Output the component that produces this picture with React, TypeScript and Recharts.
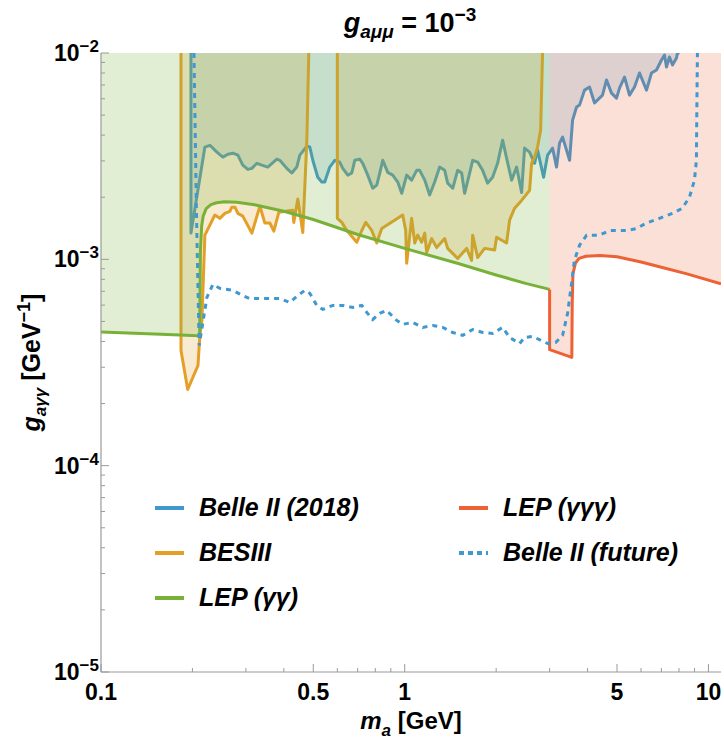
import React from 'react';
import { ComposedChart, Area, Line, XAxis, YAxis, Legend } from 'recharts';

type Pt = [number, number];

const belle2018: Pt[] = [
  [0.1978, 1e-2], [0.1978, 1.34e-3], [0.2198, 3.5e-3], [0.2284, 3.57e-3], [0.2408, 3.31e-3],
  [0.2519, 3.13e-3], [0.2617, 3.23e-3], [0.2718, 3.27e-3], [0.2823, 3.2e-3], [0.293, 2.86e-3],
  [0.3044, 2.73e-3], [0.3139, 2.76e-3], [0.326, 2.92e-3], [0.3386, 2.86e-3], [0.3541, 2.8e-3],
  [0.3793, 3.06e-3], [0.388, 3.02e-3], [0.409, 2.76e-3], [0.4248, 2.62e-3], [0.4412, 2.8e-3],
  [0.4514, 3.2e-3], [0.4762, 3.53e-3], [0.487, 3.5e-3], [0.4982, 3.02e-3], [0.5173, 2.5e-3],
  [0.5333, 2.37e-3], [0.5454, 2.37e-3], [0.5665, 2.8e-3], [0.5885, 3.02e-3], [0.611, 2.96e-3],
  [0.6252, 2.76e-3], [0.6494, 2.56e-3], [0.6694, 2.62e-3], [0.6849, 3.02e-3], [0.7112, 3.06e-3],
  [0.7275, 2.92e-3], [0.7556, 2.56e-3], [0.7846, 2.21e-3], [0.8089, 2.29e-3], [0.8276, 2.62e-3],
  [0.8466, 3.02e-3], [0.8792, 2.64e-3], [0.9131, 2.56e-3], [0.9484, 2.37e-3], [0.9775, 2.09e-3],
  [1.015, 2.56e-3], [1.054, 2.42e-3], [1.095, 2.7e-3], [1.12, 2.7e-3], [1.164, 2.42e-3],
  [1.208, 2.05e-3], [1.255, 2.37e-3], [1.303, 2.8e-3], [1.354, 2.7e-3], [1.385, 2.34e-3],
  [1.439, 2.21e-3], [1.494, 2.7e-3], [1.54, 2.62e-3], [1.575, 2.09e-3], [1.636, 2.62e-3],
  [1.674, 3.02e-3], [1.738, 2.96e-3], [1.805, 2.7e-3], [1.875, 2.34e-3], [1.947, 2.5e-3],
  [2.022, 2.92e-3], [2.101, 3.78e-3], [2.165, 3.09e-3], [2.249, 2.42e-3], [2.336, 2.8e-3],
  [2.426, 2.11e-3], [2.481, 3.46e-3], [2.577, 3.31e-3], [2.677, 2.92e-3], [2.738, 3.38e-3],
  [2.866, 2.5e-3], [2.954, 3.2e-3], [3.068, 3.46e-3], [3.162, 2.8e-3], [3.235, 3.66e-3],
  [3.31, 3.91e-3], [3.49, 3.02e-3], [3.57, 4.73e-3], [3.68, 5.47e-3], [3.764, 5.59e-3],
  [3.909, 6.61e-3], [4.06, 6.84e-3], [4.217, 5.72e-3], [4.48, 6.25e-3], [4.618, 7.4e-3],
  [4.796, 6.39e-3], [4.982, 6.04e-3], [5.096, 6.76e-3], [5.293, 7.65e-3], [5.497, 6.25e-3],
  [5.71, 6.84e-3], [5.93, 8e-3], [6.254, 6.61e-3], [6.494, 8e-3], [6.745, 8.27e-3],
  [7.006, 9.25e-3], [7.167, 9.78e-3], [7.276, 8.55e-3], [7.443, 9.56e-3], [7.615, 8.74e-3],
  [7.849, 9.46e-3], [7.907, 1e-2], [8.03, 1e-2],
];

const besiiiLow: Pt[] = [
  [0.1834, 1e-2], [0.1834, 3.62e-4], [0.193, 2.34e-4], [0.2086, 3.06e-4], [0.2116, 4.28e-4],
  [0.2149, 5.06e-4], [0.2198, 1.31e-3], [0.2371, 1.64e-3], [0.2462, 1.58e-3], [0.2558, 1.67e-3],
  [0.2657, 1.71e-3], [0.2697, 1.79e-3], [0.276, 1.79e-3], [0.2823, 1.67e-3], [0.293, 1.62e-3],
  [0.3139, 1.34e-3], [0.3335, 1.81e-3], [0.3463, 1.5e-3], [0.3597, 1.5e-3], [0.3708, 1.37e-3],
  [0.385, 1.69e-3], [0.428, 1.73e-3], [0.4312, 1.51e-3], [0.4447, 1.96e-3], [0.4618, 1.35e-3],
  [0.4762, 3.78e-3], [0.4832, 1e-2],
];

const besiiiHigh: Pt[] = [
  [0.6, 1e-2], [0.6, 1.58e-3], [0.6206, 1.51e-3], [0.6446, 1.38e-3], [0.6955, 1.21e-3],
  [0.7222, 1.38e-3], [0.7443, 1.51e-3], [0.7786, 1.38e-3], [0.8089, 1.2e-3], [0.8401, 1.41e-3],
  [0.9849, 1.64e-3], [1.0076, 1.38e-3], [1.015, 9.57e-4], [1.054, 1.58e-3], [1.079, 1.2e-3],
  [1.104, 1.31e-3], [1.137, 1.21e-3], [1.164, 1.34e-3], [1.181, 1.08e-3], [1.227, 1.26e-3],
  [1.274, 1.14e-3], [1.354, 1.26e-3], [1.385, 1.13e-3], [1.494, 1.01e-3], [1.599, 1.13e-3],
  [1.661, 9.89e-4], [1.674, 1.31e-3], [1.738, 1.02e-3], [1.833, 1.13e-3], [1.977, 1.11e-3],
  [2.007, 1.28e-3], [2.165, 1.2e-3], [2.215, 1.55e-3], [2.301, 1.77e-3], [2.426, 1.93e-3],
  [2.577, 2.16e-3], [2.617, 2.92e-3], [2.677, 3.13e-3], [2.738, 3.5e-3], [2.802, 4.22e-3],
  [2.844, 1e-2],
];

const lepGG: Pt[] = [
  [0.1, 4.45e-4], [0.15, 4.35e-4], [0.2, 4.28e-4], [0.2112, 4.25e-4], [0.2116, 6e-4],
  [0.2125, 1.1e-3], [0.2145, 1.45e-3], [0.217, 1.62e-3], [0.222, 1.76e-3], [0.23, 1.84e-3],
  [0.24, 1.88e-3], [0.255, 1.9e-3], [0.28, 1.89e-3], [0.32, 1.84e-3], [0.4, 1.71e-3],
  [0.5, 1.56e-3], [0.7, 1.32e-3], [1, 1.13e-3], [1.5, 9.55e-4], [2, 8.4e-4],
  [2.5, 7.65e-4], [3.0, 7.15e-4],
];

const lepGGG: Pt[] = [
  [3.0, 7.15e-4], [3.0, 3.65e-4], [3.55, 3.35e-4], [3.56, 6e-4], [3.58, 8.5e-4],
  [3.65, 9.6e-4], [3.75, 1.01e-3], [3.95, 1.035e-3], [4.4, 1.045e-3], [5, 1.03e-3],
  [6, 9.7e-4], [7, 9.15e-4], [8.5, 8.5e-4], [11, 7.6e-4],
];

const belleFuture: Pt[] = [
  [0.2023, 1e-2], [0.2065, 1.5e-3], [0.2105, 3.82e-4], [0.2232, 6.54e-4], [0.2335, 7.56e-4],
  [0.2462, 7.23e-4], [0.2718, 7.07e-4], [0.293, 6.68e-4], [0.3085, 6.46e-4], [0.3516, 6.46e-4],
  [0.388, 6.46e-4], [0.4185, 6.18e-4], [0.4447, 6.68e-4], [0.469, 7.07e-4], [0.487, 6.84e-4],
  [0.5135, 5.98e-4], [0.5373, 5.72e-4], [0.5796, 5.98e-4], [0.6252, 5.98e-4], [0.6745, 5.85e-4],
  [0.7222, 5.98e-4], [0.7499, 5.53e-4], [0.7846, 5.11e-4], [0.8276, 5.47e-4], [0.8726, 5.65e-4],
  [0.9412, 5.06e-4], [0.9849, 4.84e-4], [1.062, 4.95e-4], [1.146, 4.68e-4], [1.236, 4.78e-4],
  [1.334, 4.68e-4], [1.439, 4.42e-4], [1.552, 4.28e-4], [1.674, 4.57e-4], [1.805, 4.42e-4],
  [1.947, 4.37e-4], [2.101, 4.68e-4], [2.215, 4.18e-4], [2.39, 3.91e-4], [2.481, 4.18e-4],
  [2.636, 4.23e-4], [2.954, 3.91e-4], [3.139, 3.95e-4], [3.31, 4.28e-4], [3.437, 5.47e-4],
  [3.543, 7.64e-4], [3.62, 9.89e-4], [3.764, 1.17e-3], [3.97, 1.31e-3], [4.38, 1.31e-3],
  [4.725, 1.38e-3], [5.374, 1.38e-3], [5.798, 1.41e-3], [6.254, 1.5e-3], [6.9, 1.58e-3],
  [7.615, 1.67e-3], [8.212, 1.77e-3], [8.66, 2e-3], [8.995, 2.42e-3], [9.13, 3.02e-3],
  [9.15, 4.57e-3], [9.2, 1e-2],
];

// axis ticks
const xTicks = [0.1, 0.2, 0.3, 0.4, 0.5, 0.6, 0.7, 0.8, 0.9, 1, 2, 3, 4, 5, 6, 7, 8, 9, 10];
const xTickLabels: Record<string, string> = { '0.1': '0.1', '0.5': '0.5', '1': '1', '5': '5', '10': '10' };
const yTicks = [
  1e-5, 2e-5, 3e-5, 4e-5, 5e-5, 6e-5, 7e-5, 8e-5, 9e-5,
  1e-4, 2e-4, 3e-4, 4e-4, 5e-4, 6e-4, 7e-4, 8e-4, 9e-4,
  1e-3, 2e-3, 3e-3, 4e-3, 5e-3, 6e-3, 7e-3, 8e-3, 9e-3, 1e-2,
];
const yTickExponents: Record<string, string> = { '0.00001': '5', '0.0001': '4', '0.001': '3', '0.01': '2' };

const FONT = '"Liberation Sans", Arial, Helvetica, sans-serif';
const FRAME = '#9a9a9a';
const BLUE = '#3f98d0';
const ORANGE = '#e49f29';
const GREEN = '#78b138';
const RED = '#ec6235';

const rows = (pts: Pt[]) => pts.map(([m, g]) => ({ m, g }));

const legendItems = [
  { name: 'Belle II (2018)', color: BLUE, dotted: false, col: 0, row: 0 },
  { name: 'BESIII', color: ORANGE, dotted: false, col: 0, row: 1 },
  { name: 'LEP (γγ)', color: GREEN, dotted: false, col: 0, row: 2 },
  { name: 'LEP (γγγ)', color: RED, dotted: false, col: 1, row: 0 },
  { name: 'Belle II (future)', color: BLUE, dotted: true, col: 1, row: 1 },
];

// ticks point inward, labels only on the major ones
const XTickBottom = (props: any) => {
  const { x, y, payload } = props;
  const label = xTickLabels[String(payload.value)];
  return (
    <g>
      <line x1={x} x2={x} y1={y} y2={y - (label ? 8 : 4)} stroke={FRAME} />
      {label && (
        <text x={x} y={y + 28} textAnchor="middle" fontFamily={FONT} fontWeight="bold" fontSize={23} fill="#000">
          {label}
        </text>
      )}
    </g>
  );
};

const XTickTop = (props: any) => {
  const { x, y, payload } = props;
  const major = !!xTickLabels[String(payload.value)];
  return <line x1={x} x2={x} y1={y} y2={y + (major ? 8 : 4)} stroke={FRAME} />;
};

const YTickLeft = (props: any) => {
  const { x, y, payload } = props;
  const exp = yTickExponents[String(payload.value)];
  return (
    <g>
      <line x1={x} x2={x + (exp ? 8 : 4)} y1={y} y2={y} stroke={FRAME} />
      {exp && (
        <text x={x - 2} y={y + 8} textAnchor="end" fontFamily={FONT} fontWeight="bold" fontSize={23} fill="#000">
          10
          <tspan dy={-9} fontSize={17}>
            {'\u2212' + exp}
          </tspan>
        </text>
      )}
    </g>
  );
};

const YTickRight = (props: any) => {
  const { x, y, payload } = props;
  const major = !!yTickExponents[String(payload.value)];
  return <line x1={x} x2={x - (major ? 8 : 4)} y1={y} y2={y} stroke={FRAME} />;
};

const renderXLabel = (props: any) => {
  const vb = props.viewBox;
  return (
    <text x={vb.x + vb.width / 2} y={vb.y + 57} textAnchor="middle" fontFamily={FONT} fontWeight="bold" fontSize={24} fill="#000">
      <tspan fontStyle="italic">m</tspan>
      <tspan fontStyle="italic" fontSize={17} dy={7}>a</tspan>
      <tspan dy={-7}>{' [GeV]'}</tspan>
    </text>
  );
};

const renderYLabel = (props: any) => {
  const vb = props.viewBox;
  const cx = vb.x + 40;
  const cy = vb.y + vb.height / 2;
  return (
    <text x={cx} y={cy} transform={`rotate(-90 ${cx} ${cy})`} textAnchor="middle" fontFamily={FONT} fontWeight="bold" fontSize={25} fill="#000">
      <tspan fontStyle="italic">g</tspan>
      <tspan fontStyle="italic" fontSize={17} dy={6}>aγγ</tspan>
      <tspan dy={-6}>{' [GeV'}</tspan>
      <tspan fontSize={18} dy={-10}>{'\u22121'}</tspan>
      <tspan dy={10}>]</tspan>
    </text>
  );
};

const renderLegend = () => (
  <svg width={724} height={150} style={{ display: 'block' }}>
    {legendItems.map((it) => {
      const x0 = it.col === 0 ? 155 : 459;
      const tx = it.col === 0 ? 199 : 503;
      const y = 38 + it.row * 45;
      return (
        <g key={it.name}>
          <line
            x1={x0}
            x2={x0 + 29}
            y1={y}
            y2={y}
            stroke={it.color}
            strokeWidth={4}
            strokeDasharray={it.dotted ? '5 4' : undefined}
          />
          <text x={tx} y={y + 8} fontFamily={FONT} fontWeight="bold" fontStyle="italic" fontSize={25} fill="#000">
            {it.name}
          </text>
        </g>
      );
    })}
  </svg>
);

function Title() {
  return (
    <svg width={724} height={45} style={{ position: 'absolute', left: 0, top: 0 }}>
      <text x={410} y={32} textAnchor="middle" fontFamily={FONT} fontWeight="bold" fontSize={27} fill="#000">
        <tspan fontStyle="italic">g</tspan>
        <tspan fontStyle="italic" fontSize={19} dy={6}>aμμ</tspan>
        <tspan dy={-6}>{' = 10'}</tspan>
        <tspan fontSize={19} dy={-11}>{'\u22123'}</tspan>
      </text>
    </svg>
  );
}

export default function App() {
  const areaProps = {
    xAxisId: 'b',
    yAxisId: 'l',
    dataKey: 'g',
    type: 'linear' as const,
    baseValue: 'dataMax' as const,
    strokeWidth: 3,
    strokeLinejoin: 'round' as const,
    fillOpacity: 0.21,
    dot: false,
    activeDot: false,
    isAnimationActive: false,
  };

  return (
    <div style={{ position: 'absolute', left: 0, top: 0, width: 724, height: 744, background: '#fff' }}>
      <ComposedChart width={724} height={744} margin={{ top: 53, right: 3, bottom: 0, left: 0 }}>
        <XAxis
          xAxisId="b"
          dataKey="m"
          type="number"
          scale="log"
          domain={[0.1, 11]}
          allowDataOverflow
          ticks={xTicks}
          interval={0}
          tickSize={0}
          tickMargin={0}
          tickLine={false}
          tick={XTickBottom}
          axisLine={{ stroke: FRAME, strokeWidth: 1.2 }}
          height={72}
          label={{ content: renderXLabel }}
        />
        <XAxis
          xAxisId="t"
          orientation="top"
          dataKey="m"
          type="number"
          scale="log"
          domain={[0.1, 11]}
          allowDataOverflow
          ticks={xTicks}
          interval={0}
          tickSize={0}
          tickMargin={0}
          tickLine={false}
          tick={XTickTop}
          axisLine={{ stroke: FRAME, strokeWidth: 1.2 }}
          height={0}
        />
        <YAxis
          yAxisId="l"
          type="number"
          scale="log"
          domain={[1e-5, 1e-2]}
          allowDataOverflow
          ticks={yTicks}
          interval={0}
          tickSize={0}
          tickMargin={0}
          tickLine={false}
          tick={YTickLeft}
          axisLine={{ stroke: FRAME, strokeWidth: 1.2 }}
          width={101}
          label={{ content: renderYLabel }}
        />
        <YAxis
          yAxisId="r"
          orientation="right"
          type="number"
          scale="log"
          domain={[1e-5, 1e-2]}
          allowDataOverflow
          ticks={yTicks}
          interval={0}
          tickSize={0}
          tickMargin={0}
          tickLine={false}
          tick={YTickRight}
          axisLine={{ stroke: FRAME, strokeWidth: 1.2 }}
          width={0}
        />

        {/* excluded regions: each fills from its bound up to the top of the plot */}
        <Area {...areaProps} data={rows(belle2018)} name="Belle II (2018)" stroke={BLUE} fill={BLUE} fillOpacity={0.18} />
        <Area {...areaProps} data={rows(besiiiLow)} name="BESIII" stroke={ORANGE} fill={ORANGE} />
        <Area {...areaProps} data={rows(besiiiHigh)} name="BESIII high" stroke={ORANGE} fill={ORANGE} />
        <Area {...areaProps} data={rows(lepGG)} name="LEP (γγ)" stroke={GREEN} fill={GREEN} fillOpacity={0.22} />
        <Area {...areaProps} data={rows(lepGGG)} name="LEP (γγγ)" stroke={RED} fill={RED} fillOpacity={0.2} />

        <Line
          xAxisId="b"
          yAxisId="l"
          data={rows(belleFuture)}
          dataKey="g"
          name="Belle II (future)"
          type="linear"
          stroke={BLUE}
          strokeWidth={3}
          strokeDasharray="5 5"
          dot={false}
          activeDot={false}
          isAnimationActive={false}
        />

        <Legend
          layout="vertical"
          align="center"
          verticalAlign="middle"
          content={renderLegend}
          wrapperStyle={{ left: 0, top: 470, width: 724, height: 150 }}
        />
      </ComposedChart>
      <Title />
    </div>
  );
}
